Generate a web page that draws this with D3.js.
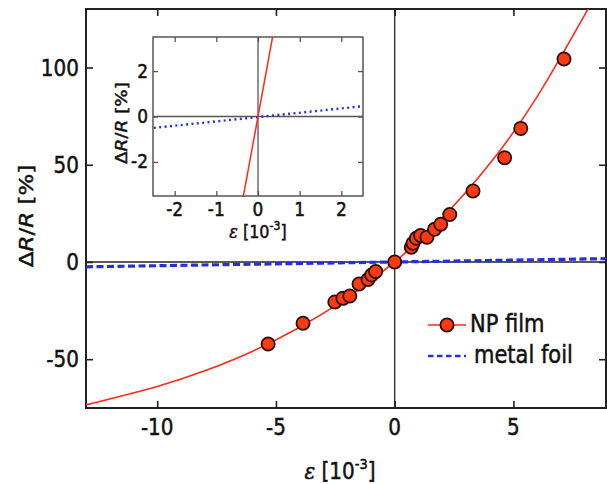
<!DOCTYPE html>
<html><head><meta charset="utf-8">
<script src="https://cdn.jsdelivr.net/npm/d3@7"></script>
<style>body{margin:0;background:#fff}svg{display:block}</style></head>
<body><svg id="c" width="607" height="484"></svg>
<script>
// ---- data ----
const filmStrain = [-5.33,-3.86,-2.52,-2.18,-1.89,-1.50,-1.12,-0.97,-0.80,0,0.70,0.77,0.91,1.09,1.36,1.68,1.94,2.32,3.30,4.63,5.31,7.13];
const filmResp   = [-42.2,-31.5,-20.6,-18.7,-17.5,-11.3,-9.0,-6.7,-4.9,0,7.6,9.6,12.2,13.6,12.7,16.8,19.4,24.4,36.5,53.6,68.7,104.4];
const fitStrain  = [-13,-10,-8,-6,-4,-2,0,2,4,6,8,8.4];
const fitResp    = [-73.5,-64,-56,-46,-33.6,-18.5,0,22.6,50.5,85,127,135.5];
const foilStrain = [-13, 8.9];
const foilResp   = [-2.5, 1.7];
const insetFilmStrain = [-0.4, 0, 0.4];
const insetFilmResp   = [-4.0, 0, 4.0];
const insetFoilStrain = [-2.5, 2.5];
const insetFoilResp   = [-0.5, 0.45];
const mainXTicks = [-10,-5,0,5];
const mainYTicks = [-50,0,50,100];
const insetXTicks = [-2,-1,0,1,2];
const insetYTicks = [-2,0,2];
const legendLabels = ["NP film","metal foil"];

const RED = "#ff2a18", MARK = "#ff3a10", MARKSTROKE = "#2a0d05", BLUE = "#2430e0", AX = "#222";
const FONT = "DejaVu Sans";
const SY = 1.15;

const svg = d3.select("#c");

function txt(g, x, y, s, size, anchor, rot) {
  const t = g.append("text")
    .attr("transform", rot ? `translate(${x},${y}) rotate(-90) scale(${SY},1)` : `translate(${x},${y}) scale(1,${SY})`)
    .attr("font-family", FONT).attr("font-size", size)
    .attr("text-anchor", anchor || "middle").attr("fill", "#111")
    .attr("stroke", "#111").attr("stroke-width", 0.45);
  if (s !== null) t.text(s);
  return t;
}

// ---- main plot ----
const X0 = 86, X1 = 606, Y0 = 9, Y1 = 408;
const xs = d3.scaleLinear().domain([-13.0, 8.9]).range([X0, X1]);
const ys = d3.scaleLinear().domain([-75.1, 130.1]).range([Y1, Y0]);

svg.append("defs").append("clipPath").attr("id","mclip")
  .append("rect").attr("x",X0).attr("y",Y0).attr("width",X1-X0).attr("height",Y1-Y0);
svg.select("defs").append("clipPath").attr("id","iclip")
  .append("rect").attr("x",153).attr("y",37).attr("width",210).attr("height",160);

const main = svg.append("g");
// zero lines
main.append("line").attr("x1",xs(0)).attr("x2",xs(0)).attr("y1",Y0).attr("y2",Y1).attr("stroke","#333").attr("stroke-width",1.4);
main.append("line").attr("x1",X0).attr("x2",X1).attr("y1",ys(0)).attr("y2",ys(0)).attr("stroke","#222").attr("stroke-width",1.6);

// axes with inward ticks
function axisStyle(g){ g.select(".domain").remove(); g.selectAll("text").remove(); g.selectAll("line").attr("stroke",AX).attr("stroke-width",1.6); }
main.append("g").attr("transform",`translate(0,${Y1})`).call(d3.axisBottom(xs).tickValues(mainXTicks).tickSize(-7)).call(axisStyle);
main.append("g").attr("transform",`translate(0,${Y0})`).call(d3.axisTop(xs).tickValues(mainXTicks).tickSize(-7)).call(axisStyle);
main.append("g").attr("transform",`translate(${X0},0)`).call(d3.axisLeft(ys).tickValues(mainYTicks).tickSize(-7)).call(axisStyle);
main.append("g").attr("transform",`translate(${X1},0)`).call(d3.axisRight(ys).tickValues(mainYTicks).tickSize(-7)).call(axisStyle);
main.append("rect").attr("x",X0).attr("y",Y0).attr("width",X1-X0).attr("height",Y1-Y0).attr("fill","none").attr("stroke",AX).attr("stroke-width",2);

mainXTicks.forEach(t => txt(main, xs(t), 435, String(t), 20, "middle"));
mainYTicks.forEach(t => txt(main, 79, ys(t)+8, String(t), 20, "end"));

// titles
const yt = txt(main, 33, 216, null, 20, "middle", true);
yt.append("tspan").text("Δ");
yt.append("tspan").attr("font-style","italic").text("R");
yt.append("tspan").text("/");
yt.append("tspan").attr("font-style","italic").text("R");
yt.append("tspan").text(" [%]");

const xt = txt(main, 340, 479, null, 20, "middle");
xt.append("tspan").attr("font-family","DejaVu Serif").attr("font-style","italic").text("ε");
xt.append("tspan").text(" [10");
xt.append("tspan").attr("font-size",13).attr("dy",-9).text("-3");
xt.append("tspan").attr("dy",9).text("]");

// series
const plot = main.append("g").attr("clip-path","url(#mclip)");
const foilLine = d3.line().x((d,i)=>xs(foilStrain[i])).y((d,i)=>ys(foilResp[i]));
plot.append("path").attr("d", foilLine(foilStrain)).attr("fill","none").attr("stroke",BLUE)
  .attr("stroke-width",3.2).attr("stroke-dasharray","7,3.5");
const fitLine = d3.line().curve(d3.curveNatural).x((d,i)=>xs(fitStrain[i])).y((d,i)=>ys(fitResp[i]));
plot.append("path").attr("d", fitLine(fitStrain)).attr("fill","none").attr("stroke",RED).attr("stroke-width",1.6);
plot.selectAll("circle.pt").data(filmStrain).join("circle").attr("class","pt")
  .attr("cx",(d)=>xs(d)).attr("cy",(d,i)=>ys(filmResp[i])).attr("r",6.6)
  .attr("fill",MARK).attr("stroke",MARKSTROKE).attr("stroke-width",1.8);

// legend
const lg = main.append("g");
lg.append("line").attr("x1",428).attr("x2",466).attr("y1",325).attr("y2",325).attr("stroke",RED).attr("stroke-width",1.6);
lg.append("circle").attr("cx",447).attr("cy",325).attr("r",6.6).attr("fill",MARK).attr("stroke",MARKSTROKE).attr("stroke-width",1.8);
txt(lg, 470, 332, legendLabels[0], 21, "start");
lg.append("line").attr("x1",428).attr("x2",466).attr("y1",356).attr("y2",356).attr("stroke",BLUE).attr("stroke-width",2.6).attr("stroke-dasharray","5.5,3.5");
txt(lg, 474, 363, legendLabels[1], 21, "start");

// ---- inset ----
const IX0 = 153, IX1 = 363, IY0 = 37, IY1 = 196;
const ixs = d3.scaleLinear().domain([-2.52, 2.52]).range([IX0, IX1]);
const iys = d3.scaleLinear().domain([-3.5, 3.5]).range([IY1, IY0]);
const ins = svg.append("g");
ins.append("rect").attr("x",IX0).attr("y",IY0).attr("width",IX1-IX0).attr("height",IY1-IY0).attr("fill","#fff");
ins.append("line").attr("x1",ixs(0)).attr("x2",ixs(0)).attr("y1",IY0).attr("y2",IY1).attr("stroke","#555").attr("stroke-width",1.3);
ins.append("line").attr("x1",IX0).attr("x2",IX1).attr("y1",iys(0)).attr("y2",iys(0)).attr("stroke","#555").attr("stroke-width",1.3);
function iaxisStyle(g){ g.select(".domain").remove(); g.selectAll("text").remove(); g.selectAll("line").attr("stroke","#555").attr("stroke-width",1.3); }
ins.append("g").attr("transform",`translate(0,${IY1})`).call(d3.axisBottom(ixs).tickValues(insetXTicks).tickSize(-5)).call(iaxisStyle);
ins.append("g").attr("transform",`translate(0,${IY0})`).call(d3.axisTop(ixs).tickValues(insetXTicks).tickSize(-5)).call(iaxisStyle);
ins.append("g").attr("transform",`translate(${IX0},0)`).call(d3.axisLeft(iys).tickValues(insetYTicks).tickSize(-5)).call(iaxisStyle);
ins.append("g").attr("transform",`translate(${IX1},0)`).call(d3.axisRight(iys).tickValues(insetYTicks).tickSize(-5)).call(iaxisStyle);
ins.append("rect").attr("x",IX0).attr("y",IY0).attr("width",IX1-IX0).attr("height",IY1-IY0).attr("fill","none").attr("stroke","#555").attr("stroke-width",1.5);

const ip = ins.append("g").attr("clip-path","url(#iclip)");
const ifoil = d3.line().x((d,i)=>ixs(insetFoilStrain[i])).y((d,i)=>iys(insetFoilResp[i]));
ip.append("path").attr("d", ifoil(insetFoilStrain)).attr("fill","none").attr("stroke",BLUE)
  .attr("stroke-width",2.4).attr("stroke-dasharray","2,3.4");
const ifilm = d3.line().x((d,i)=>ixs(insetFilmStrain[i])).y((d,i)=>iys(insetFilmResp[i]));
ip.append("path").attr("d", ifilm(insetFilmStrain)).attr("fill","none").attr("stroke",RED).attr("stroke-width",1.5);

insetXTicks.forEach(t => txt(ins, ixs(t), 216, String(t), 17, "middle"));
insetYTicks.forEach(t => txt(ins, 148, iys(t)+6.5, String(t), 17, "end"));

const iyt = txt(ins, 127, 123, null, 16, "middle", true);
iyt.append("tspan").text("Δ");
iyt.append("tspan").attr("font-style","italic").text("R");
iyt.append("tspan").text("/");
iyt.append("tspan").attr("font-style","italic").text("R");
iyt.append("tspan").text(" [%]");

const ixt = txt(ins, 258, 238, null, 16, "middle");
ixt.append("tspan").attr("font-family","DejaVu Serif").attr("font-style","italic").text("ε");
ixt.append("tspan").text(" [10");
ixt.append("tspan").attr("font-size",11).attr("dy",-7).text("-3");
ixt.append("tspan").attr("dy",7).text("]");
</script></body></html>
